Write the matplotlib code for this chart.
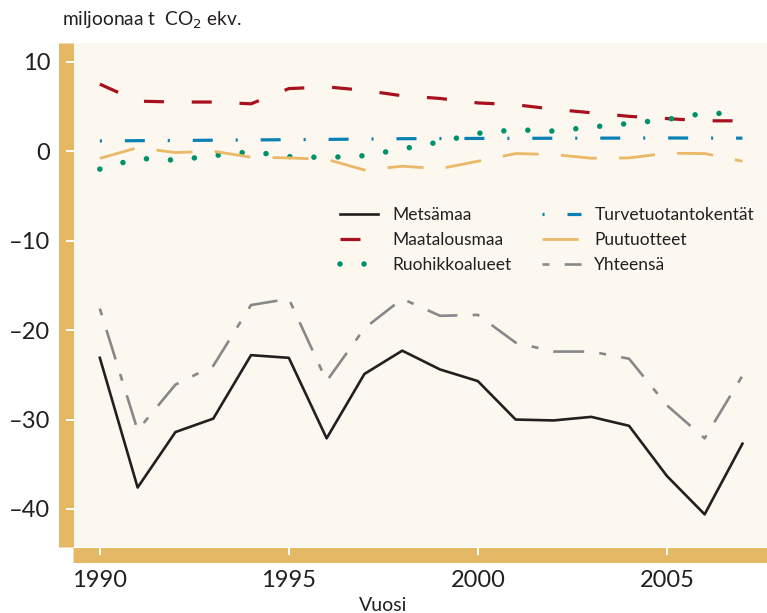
import numpy as np
import matplotlib
matplotlib.use('Agg')
import matplotlib.pyplot as plt

#---------------- data ----------------
years = list(range(1990, 2008))

metsamaa = [-23.1, -37.6, -31.4, -29.9, -22.8, -23.1, -32.1, -24.9, -22.3,
            -24.4, -25.7, -30.0, -30.1, -29.7, -30.7, -36.3, -40.6, -32.7]
maatalousmaa = [7.5, 5.6, 5.5, 5.5, 5.3, 7.0, 7.2, 6.8, 6.2,
                5.9, 5.4, 5.2, 4.7, 4.3, 3.9, 3.65, 3.4, 3.4]
ruohikko = [-2.0, -0.8, -1.0, -0.5, -0.05, -0.6, -0.7, -0.5, 0.25,
            1.05, 2.0, 2.4, 2.25, 2.7, 3.1, 3.55, 4.25, 4.2]
turve = [1.15, 1.18, 1.2, 1.23, 1.26, 1.29, 1.32, 1.36, 1.4,
         1.42, 1.43, 1.44, 1.45, 1.46, 1.47, 1.48, 1.47, 1.46]
puutuotteet = [-0.8, 0.4, -0.15, 0.0, -0.67, -0.75, -0.9, -2.1, -1.68,
               -1.95, -1.12, -0.26, -0.37, -0.78, -0.75, -0.22, -0.26, -1.12]
yhteensa = [-17.6, -31.2, -26.1, -24.0, -17.2, -16.5, -25.7, -19.8, -16.5,
            -18.4, -18.3, -21.4, -22.4, -22.4, -23.2, -28.4, -32.1, -25.1]

xticks = [1990, 1995, 2000, 2005]
yticks = [10, 0, -10, -20, -30, -40]
ytick_labels = ['10', '0', '\u201310', '\u201320', '\u201330', '\u201340']

#---------------- style ----------------
plt.rcParams['font.family'] = ['Lato', 'DejaVu Sans']
plt.rcParams['lines.scale_dashes'] = False

band = '#e5b865'
cream = '#fdf8ef'
txt = '#231f20'

fig = plt.figure(figsize=(7.67, 6.13), dpi=100)
ax = fig.add_axes([73/767, 66/613, 694/767, 504/613])
ax.set_facecolor(cream)

ax.plot(years, metsamaa, color='#231f20', lw=1.9, label='Metsämaa')
l_red, = ax.plot(years, maatalousmaa, color='#a8101e', lw=2.3, label='Maatalousmaa')
l_red.set_dashes((14.4, 20))
l_grn, = ax.plot(years, ruohikko, color='#00936b', lw=4.0, label='Ruohikkoalueet',
                 dash_capstyle='round')
l_grn.set_dashes((0.01, 17.3))
l_blu, = ax.plot(years, turve, color='#0a80b5', lw=2.3, label='Turvetuotantokentät')
l_blu.set_dashes((1.5, 16.5, 14.4, 16.5))
l_org, = ax.plot(years, puutuotteet, color='#eab866', lw=2.0, label='Puutuotteet')
l_org.set_dashes((26, 16))
l_gry, = ax.plot(years, yhteensa, color='#87888a', lw=1.9, label='Yhteensä')
l_gry.set_dashes((5, 11, 22.3, 11))

ax.set_xlim(1989.29, 2007.65)
ax.set_ylim(-44.25, 12.1)

# thick golden bands as spines, white ticks drawn on top of them
for side in ['top', 'right']:
    ax.spines[side].set_visible(False)
for side in ['left', 'bottom']:
    sp = ax.spines[side]
    sp.set_color(band)
    sp.set_linewidth(10.8)
    sp.set_capstyle('butt')
    sp.set_position(('outward', 5.4))
    sp.set_zorder(1)
ax.set_axisbelow(False)

ax.set_xticks(xticks)
ax.set_yticks(yticks)
ax.set_yticklabels(ytick_labels)
ax.tick_params(axis='both', direction='in', length=5.4, width=1.4, color='white',
               labelsize=17, labelcolor=txt)
ax.tick_params(axis='y', pad=11)
ax.tick_params(axis='x', pad=11)

ax.set_xlabel('Vuosi', fontsize=14, color=txt)
ax.xaxis.set_label_coords(0.447, -0.1)

fig.text(62/767, 1 - 20/613, 'miljoonaa t  CO$_2$ ekv.', fontsize=13.8, color=txt,
         va='center', ha='left')

leg = ax.legend(ncol=2, frameon=False, fontsize=12.5, handlelength=2.2,
                handletextpad=0.8, columnspacing=1.8, labelspacing=0.5,
                loc='upper left', bbox_to_anchor=(0.362, 0.705), labelcolor=txt)

fig.savefig('out.png', dpi=100, facecolor='white')
